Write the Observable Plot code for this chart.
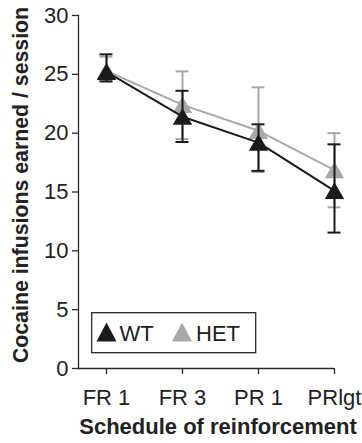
<!DOCTYPE html>
<html>
<head>
<meta charset="utf-8">
<script src="https://cdn.jsdelivr.net/npm/d3@7"></script>
<script src="https://cdn.jsdelivr.net/npm/@observablehq/plot@0.6"></script>
<style>
  html, body { margin: 0; padding: 0; background: #fff; }
  #wrap { position: relative; width: 362px; height: 443px; font-family: "Liberation Sans", Arial, sans-serif; }
  #legend { position: absolute; left: 91px; top: 312px; }
</style>
</head>
<body>
<div id="wrap"></div>
<script>
const schedules = ["FR 1", "FR 3", "PR 1", "PRlgt"];
const groups = ["WT", "HET"];
const wtMean = [25.2, 21.4, 19.2, 15.1];
const wtHigh = [26.7, 23.6, 20.75, 19.05];
const wtLow = [24.4, 19.25, 16.8, 11.55];
const hetMean = [25.3, 22.4, 20.2, 16.85];
const hetHigh = [26.5, 25.25, 23.9, 20.0];
const hetLow = [24.4, 19.5, 16.7, 13.7];
const yTicks = [0, 5, 10, 15, 20, 25, 30];
const xTitle = "Schedule of reinforcement";
const yTitle = "Cocaine infusions earned / session";

const colors = {WT: "#1c1a1b", HET: "#a7a8aa"};
const axisColor = "#2a2a2a";

const series = {
  WT: schedules.map((s, i) => ({schedule: s, group: "WT", mean: wtMean[i], hi: wtHigh[i], lo: wtLow[i]})),
  HET: schedules.map((s, i) => ({schedule: s, group: "HET", mean: hetMean[i], hi: hetHigh[i], lo: hetLow[i]}))
};

const seriesMarks = [];
for (const g of ["HET", "WT"]) {
  const data = series[g];
  const c = colors[g];
  seriesMarks.push(
    Plot.line(data, {x: "schedule", y: "mean", stroke: c, strokeWidth: 2}),
    Plot.ruleX(data, {x: "schedule", y1: "lo", y2: "hi", stroke: c, strokeWidth: 2}),
    Plot.ruleY(data, {x1: "schedule", x2: "schedule", y: "hi", stroke: c, strokeWidth: 2, insetLeft: -6.5, insetRight: -6.5}),
    Plot.ruleY(data, {x1: "schedule", x2: "schedule", y: "lo", stroke: c, strokeWidth: 2, insetLeft: -6.5, insetRight: -6.5}),
    Plot.dot(data, {x: "schedule", y: "mean", symbol: "triangle", r: 7.2, fill: c, stroke: "none", dy: 2.5})
  );
}

const chart = Plot.plot({
  width: 362,
  height: 443,
  marginLeft: 78,
  marginRight: 28,
  marginTop: 15,
  marginBottom: 75,
  style: {fontFamily: "'Liberation Sans', Arial, sans-serif", color: "#222", background: "#fff"},
  x: {type: "point", domain: schedules, padding: 0.177, align: 1},
  y: {domain: [0, 30]},
  marks: [
    Plot.axisY({ticks: yTicks, tickSize: 6, tickPadding: 4, fontSize: 22, label: null, stroke: axisColor, strokeWidth: 1.3}),
    Plot.axisX({tickSize: 6, tickPadding: 15, fontSize: 22, label: null, stroke: axisColor, strokeWidth: 1.3}),
    Plot.ruleY([0], {stroke: axisColor, strokeWidth: 1.3}),
    Plot.frame({anchor: "left", stroke: axisColor, strokeWidth: 1.3}),
    ...seriesMarks,
    Plot.text([yTitle], {text: d => d, frameAnchor: "left", textAnchor: "middle", rotate: -90, dx: -57, dy: -7, fontWeight: "bold", fontSize: 21.3, fill: "#222"}),
    Plot.text([xTitle], {text: d => d, frameAnchor: "bottom", textAnchor: "middle", dy: 65, dx: 11.5, fontWeight: "bold", fontSize: 22, fill: "#222"})
  ]
});

const wrap = document.getElementById("wrap");
wrap.appendChild(chart);

// Legend (inside the plot area, boxed)
const ns = "http://www.w3.org/2000/svg";
const leg = document.createElementNS(ns, "svg");
leg.setAttribute("id", "legend");
leg.setAttribute("width", 166);
leg.setAttribute("height", 42);
const box = document.createElementNS(ns, "rect");
box.setAttribute("x", 0.7); box.setAttribute("y", 0.7);
box.setAttribute("width", 164); box.setAttribute("height", 40);
box.setAttribute("fill", "#fff"); box.setAttribute("stroke", axisColor); box.setAttribute("stroke-width", 1.3);
leg.appendChild(box);
const legendItems = [{g: "WT", tx: 15.5, lx: 28.5}, {g: "HET", tx: 91, lx: 105}];
for (const it of legendItems) {
  const tri = document.createElementNS(ns, "path");
  tri.setAttribute("d", `M${it.tx - 10},29.5L${it.tx},10.5L${it.tx + 10},29.5Z`);
  tri.setAttribute("fill", colors[it.g]);
  leg.appendChild(tri);
  const t = document.createElementNS(ns, "text");
  t.setAttribute("x", it.lx); t.setAttribute("y", 28.5);
  t.setAttribute("font-size", 22);
  t.setAttribute("font-family", "'Liberation Sans', Arial, sans-serif");
  t.setAttribute("fill", "#222");
  t.textContent = it.g;
  leg.appendChild(t);
}
wrap.appendChild(leg);
</script>
</body>
</html>
